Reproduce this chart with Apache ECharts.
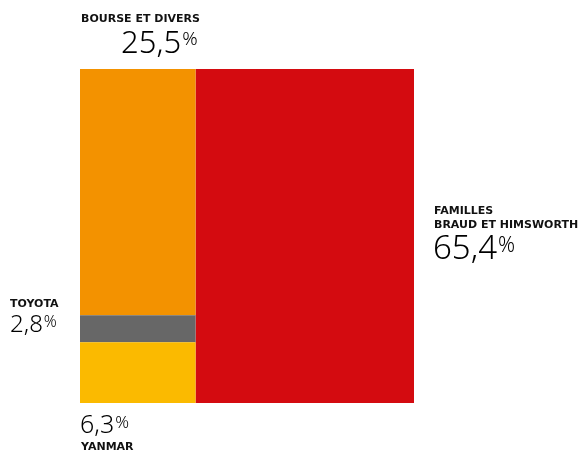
<!DOCTYPE html>
<html><head><meta charset="utf-8">
<script src="https://cdn.jsdelivr.net/npm/echarts@6/dist/echarts.min.js"></script>
<style>html,body{margin:0;padding:0;background:#fff}#c{width:587px;height:453px}</style>
</head><body><div id="c"></div>
<script>
// Data
const categories = ['FAMILLES\nBRAUD ET HIMSWORTH', 'BOURSE ET DIVERS', 'TOYOTA', 'YANMAR'];
const shares = [65.4, 25.5, 2.8, 6.3];
const valueLabels = ['65,4', '25,5', '2,8', '6,3'];
const colors = ['#D40B10', '#F39200', '#676767', '#FBBA00'];
const labelSides = ['right', 'top', 'left', 'bottom'];

// Layout: right block = first share; left column stacks the rest (top to bottom: orange, gray, yellow)
const leftTotal = shares[1] + shares[2] + shares[3];
const leftWidth = leftTotal; // out of 100
const rects = [];
rects.push([leftWidth, 100, 0, 100]); // red
let yTop = 100;
[1, 2, 3].forEach(i => {
  const h = shares[i] / leftTotal * 100;
  rects[i] = [0, leftWidth, yTop - h, yTop];
  yTop -= h;
});
const data = rects.map((r, i) => ({ value: r, name: categories[i] }));

const nameFont = 'bold 11px "DejaVu Sans"';
const numFamily = 'Noto Sans';
const numWeight = 300;

function renderItem(params, api) {
  const i = params.dataIndex;
  const p0 = api.coord([api.value(0), api.value(3)]);
  const p1 = api.coord([api.value(1), api.value(2)]);
  const x = p0[0], y = p0[1], w = p1[0] - p0[0], h = p1[1] - p0[1];
  const side = labelSides[i];
  const children = [{ type: 'rect', shape: { x, y, width: w, height: h }, style: { fill: colors[i] } }];
  const valText = '{n|' + valueLabels[i] + '}{p|%}';
  let nameEl, valEl;
  if (side === 'top') {
    nameEl = { x: x + 1, y: y - 50, align: 'left' };
    valEl = { x: x + w + 2, y: y - 25, align: 'right', size: 31, psize: 19 };
  } else if (side === 'left') {
    nameEl = { x: 10, y: y - 11, align: 'left' };
    valEl = { x: 10, y: y + 10, align: 'left', size: 24, psize: 16 };
  } else if (side === 'bottom') {
    nameEl = { x: x + 1, y: y + h + 44, align: 'left' };
    valEl = { x: x, y: y + h + 23, align: 'left', size: 25, psize: 17 };
  } else {
    nameEl = { x: x + w + 20, y: y + h / 2 - 18, align: 'left' };
    valEl = { x: x + w + 19, y: y + h / 2 + 14, align: 'left', size: 33, psize: 21 };
  }
  children.push({
    type: 'text',
    style: { text: categories[i], x: nameEl.x, y: nameEl.y, font: nameFont, fill: '#111', align: nameEl.align, verticalAlign: 'middle', lineHeight: 14 }
  });
  children.push({
    type: 'text',
    style: {
      text: valText, x: valEl.x, y: valEl.y, align: valEl.align, verticalAlign: 'middle',
      rich: {
        n: { fontFamily: numFamily, fontWeight: numWeight, fontSize: valEl.size, fill: '#000', verticalAlign: 'bottom' },
        p: { fontFamily: numFamily, fontWeight: numWeight, fontSize: valEl.psize, fill: '#000', verticalAlign: 'top', padding: [Math.round(valEl.size * 0.05), 0, 0, 1] }
      }
    }
  });
  return { type: 'group', children };
}

const chart = echarts.init(document.getElementById('c'), null, { renderer: 'canvas' });
chart.setOption({
  animation: false,
  grid: { left: 80, top: 69, width: 334, height: 334 },
  xAxis: { type: 'value', min: 0, max: 100, show: false },
  yAxis: { type: 'value', min: 0, max: 100, show: false },
  series: [{ type: 'custom', renderItem, data, encode: { x: [0, 1], y: [2, 3] }, clip: false }]
});
</script></body></html>
